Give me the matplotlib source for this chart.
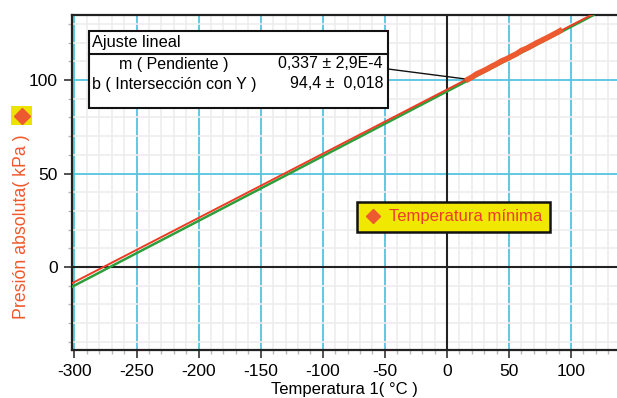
import numpy as np
import matplotlib.pyplot as plt
from matplotlib.lines import Line2D
from matplotlib.patches import Rectangle
from matplotlib.ticker import MultipleLocator

plt.rcParams['font.family'] = ['Liberation Sans', 'DejaVu Sans']
plt.rcParams['axes.unicode_minus'] = False

# measured data (thick red segment)
temp = [17, 20, 24, 28, 32, 36, 40, 44, 48, 52, 56, 60, 64, 68, 72, 76, 80, 84, 88, 91]
pres = [100.4, 101.5, 103.3, 104.5, 105.8, 107.3, 108.6, 110.2, 111.3, 112.7,
        114.0, 115.8, 116.9, 118.3, 119.8, 121.1, 122.4, 123.8, 125.2, 126.3]

# extrapolated lines (slope, intercept as drawn) and their x range
red_m, red_b = 0.343, 94.9
green_m, green_b = 0.346, 93.9
red_t = np.array([-302, 117])
green_t = np.array([-302, 118])

fit_rows = [("m ( Pendiente )", "0,337 ± 2,9E-4"),
            ("b ( Intersección con Y )", "94,4 ±  0,018")]

W, H = 617, 398
fig = plt.figure(figsize=(W / 100, H / 100), dpi=100)
ax = fig.add_axes([72 / W, 1 - 350 / H, (W - 72) / W, (350 - 15) / H])

ax.set_xlim(-302, 137)
ax.set_ylim(-44.4, 134.8)

ax.xaxis.set_major_locator(MultipleLocator(50))
ax.xaxis.set_minor_locator(MultipleLocator(10))
ax.yaxis.set_major_locator(MultipleLocator(50))
ax.yaxis.set_minor_locator(MultipleLocator(10))
ax.grid(which='minor', color='#ededed', lw=1.2)
ax.grid(which='major', color='#55c4e0', lw=1.3)
ax.set_axisbelow(True)
ax.axhline(0, color='#222222', lw=1.5, zorder=1.5)
ax.axvline(0, color='#222222', lw=1.5, zorder=1.5)

for s in ['left', 'bottom', 'top']:
    ax.spines[s].set_linewidth(1.6)
    ax.spines[s].set_color('#222222')
ax.spines['right'].set_visible(False)

ax.tick_params(which='major', length=6, width=1.2, color='#333333', labelsize=12.5, pad=4)
ax.tick_params(which='minor', length=3, width=1, color='#b8b8b8')
ax.set_yticks([0, 50, 100])

ax.plot(green_t, green_m * green_t + green_b, color='#2e9e3a', lw=1.8, zorder=3)
ax.plot(red_t, red_m * red_t + red_b, color='#ee3b24', lw=1.4, zorder=3.5)
ax.plot(temp, pres, color='#ee5a30', lw=4, zorder=4)

ax.set_xlabel("Temperatura 1( °C )", fontsize=12, labelpad=2)

# y label with marker badge
fig.text(22 / W, 1 - 227 / H, "Presión absoluta( kPa )", rotation=90, color='#f0582a',
         fontsize=12.8, ha='center', va='center')
fig.add_artist(Rectangle((11 / W, 1 - 125 / H), 21 / W, 19 / H, transform=fig.transFigure,
                         facecolor='#ece400', edgecolor='none'))
fig.add_artist(Line2D([21.5 / W], [1 - 115.5 / H], marker='D', markersize=8, color='#ee5a30',
                      transform=fig.transFigure))

# fit box
bx0, by0, bx1, by1 = 89, 31, 388, 108
fig.add_artist(Rectangle((bx0 / W, 1 - by1 / H), (bx1 - bx0) / W, (by1 - by0) / H,
                         transform=fig.transFigure, facecolor='white', edgecolor='#111111',
                         lw=1.5, zorder=5))
fig.add_artist(Line2D([bx0 / W, bx1 / W], [1 - 54 / H, 1 - 54 / H], color='#111111', lw=1.5,
                      transform=fig.transFigure, zorder=6))
fig.text(92 / W, 1 - 43 / H, "Ajuste lineal", fontsize=11.8, va='center', zorder=7)
for i, (name, val) in enumerate(fit_rows):
    y = 1 - (64 + 20 * i) / H
    x = 119 if i == 0 else 92
    fig.text(x / W, y, name, fontsize=11.5, va='center', zorder=7)
    fig.text(383 / W, y, val, fontsize=11.5, va='center', ha='right', zorder=7)

# connector from box to first data point
ax.annotate("", xy=(temp[0], pres[0]), xytext=(bx1 / W, 1 - 69 / H),
            textcoords='figure fraction',
            arrowprops=dict(arrowstyle='-', color='#111111', lw=1, shrinkA=0, shrinkB=0))

# legend
h = Line2D([], [], marker='D', color='#ee5a30', linestyle='None', markersize=7.5)
leg = ax.legend([h], ["Temperatura mínima"], loc='center',
                bbox_to_anchor=(453.5 / W, 1 - 217 / H), bbox_transform=fig.transFigure,
                fancybox=False, framealpha=1, facecolor='#f0e800', edgecolor='#111111',
                fontsize=12, handlelength=1, handletextpad=0.5, borderpad=0.45,
                borderaxespad=0)
leg.get_frame().set_linewidth(1.8)
for t in leg.get_texts():
    t.set_color('#ee3b30')

fig.savefig("out.png", dpi=100)
